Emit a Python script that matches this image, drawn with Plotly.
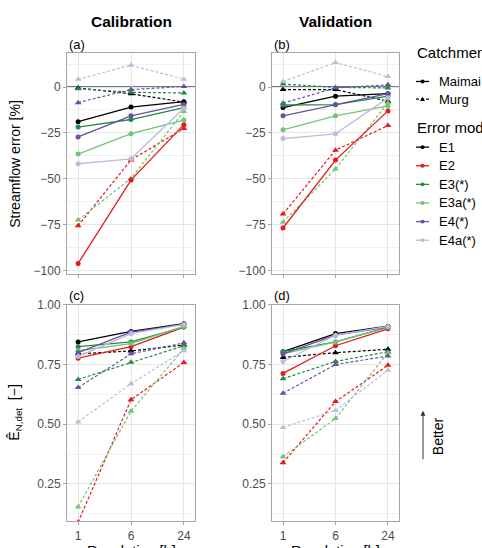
import plotly.graph_objects as go

W, H = 482, 548

res_labels = ["1", "6", "24"]
models = ["E1", "E2", "E3(*)", "E3a(*)", "E4(*)", "E4a(*)"]
model_colors = ["#000000", "#E41A1C", "#238B45", "#74C476", "#6A51A3", "#BCBDDC"]
catchments = ["Maimai", "Murg"]

# Streamflow error [%] - Calibration (rows follow `models`)
cal_err_maimai = [
    [-18.9, -10.9, -8.0],
    [-96.1, -50.7, -20.5],
    [-21.8, -17.7, -11.2],
    [-36.5, -25.4, -18.0],
    [-27.2, -15.7, -9.5],
    [-41.8, -39.1, -11.6],
]
cal_err_murg = [
    [-0.5, -3.7, -8.2],
    [-75.6, -39.7, -22.6],
    [-0.9, -2.9, -3.2],
    [-72.4, -49.8, -13.3],
    [-8.5, -1.4, 0.3],
    [4.3, 11.9, 4.3],
]
# Streamflow error [%] - Validation
val_err_maimai = [
    [-11.2, -5.0, -3.6],
    [-76.8, -39.8, -13.0],
    [-9.8, -9.6, -5.0],
    [-23.3, -15.7, -10.3],
    [-15.7, -9.5, -3.6],
    [-28.1, -25.5, -5.9],
]
val_err_murg = [
    [-1.4, -1.4, -7.7],
    [-69.2, -34.4, -21.0],
    [1.6, -0.2, -0.5],
    [-73.6, -44.7, -8.6],
    [-8.8, -0.5, 1.2],
    [3.0, 13.3, 5.7],
]
# E_N,det [-] - Calibration
cal_en_maimai = [
    [0.845, 0.889, 0.921],
    [0.777, 0.825, 0.907],
    [0.825, 0.845, 0.907],
    [0.808, 0.838, 0.910],
    [0.800, 0.886, 0.918],
    [0.784, 0.880, 0.918],
]
cal_en_murg = [
    [0.795, 0.807, 0.832],
    [0.090, 0.603, 0.759],
    [0.688, 0.760, 0.829],
    [0.154, 0.555, 0.818],
    [0.654, 0.795, 0.841],
    [0.510, 0.670, 0.808],
]
# E_N,det [-] - Validation
val_en_maimai = [
    [0.804, 0.880, 0.911],
    [0.713, 0.829, 0.900],
    [0.804, 0.845, 0.907],
    [0.795, 0.845, 0.905],
    [0.795, 0.873, 0.907],
    [0.763, 0.873, 0.910],
]
val_en_murg = [
    [0.780, 0.800, 0.814],
    [0.339, 0.595, 0.747],
    [0.691, 0.763, 0.804],
    [0.364, 0.524, 0.800],
    [0.630, 0.750, 0.786],
    [0.487, 0.558, 0.726],
]

err_ticks = [-100, -75, -50, -25, 0]
en_ticks = [0.25, 0.50, 0.75, 1.00]


def px(v):
    return v / W


def py(v):
    return 1 - v / H


FONT = "Liberation Sans, Arial, sans-serif"
GRID = "#e6e6e6"
MINOR = "#f2f2f2"
BORDER = "#a6a6a6"
TICKC = "#4d4d4d"
DASH = "3px,2px"

panels = [
    ("x", "y", (67, 195), (47, 272), cal_err_maimai, cal_err_murg, "err"),
    ("x2", "y2", (272, 399), (47, 272), val_err_maimai, val_err_murg, "err"),
    ("x3", "y3", (67, 195), (304, 525), cal_en_maimai, cal_en_murg, "en"),
    ("x4", "y4", (272, 399), (304, 525), val_en_maimai, val_en_murg, "en"),
]

fig = go.Figure()
layout = dict(
    width=W, height=H, margin=dict(l=0, r=0, t=0, b=0),
    paper_bgcolor="white", plot_bgcolor="white", showlegend=False,
    font=dict(family=FONT, color="black"),
)

xpos = list(range(len(res_labels)))

for xa, ya, xd, yd, maimai, murg, kind in panels:
    for i, m in enumerate(models):
        fig.add_trace(go.Scatter(
            x=xpos, y=murg[i], xaxis=xa, yaxis=ya, mode="lines+markers",
            line=dict(color=model_colors[i], width=1.2, dash=DASH),
            marker=dict(symbol="triangle-up", size=6, color=model_colors[i]),
            name=m + " Murg",
        ))
    for i, m in enumerate(models):
        fig.add_trace(go.Scatter(
            x=xpos, y=maimai[i], xaxis=xa, yaxis=ya, mode="lines+markers",
            line=dict(color=model_colors[i], width=1.3),
            marker=dict(symbol="circle", size=5, color=model_colors[i]),
            name=m + " Maimai",
        ))
    xk = "xaxis" + xa[1:]
    yk = "yaxis" + ya[1:]
    bottom = kind == "en"
    layout[xk] = dict(
        domain=[px(xd[0]), px(xd[1])], anchor=ya, range=[-0.21, 2.21],
        tickvals=xpos, ticktext=res_labels, showticklabels=bottom,
        ticks="outside", ticklen=3, tickcolor=BORDER,
        tickfont=dict(size=12, color=TICKC, family=FONT),
        showgrid=True, gridcolor=GRID, gridwidth=1,
        showline=True, linecolor=BORDER, linewidth=1, mirror=True,
        zeroline=False, fixedrange=True,
    )
    if kind == "err":
        yr = [-101.6, 18.5]
        tv = err_ticks
        tt = [("−" + str(-t)) if t < 0 else str(t) for t in tv]
        minor = dict(showgrid=True, gridcolor=MINOR, dtick=12.5, tick0=-12.5)
    else:
        yr = [0.093, 1.0]
        tv = en_ticks
        tt = ["%.2f" % t for t in tv]
        minor = dict(showgrid=True, gridcolor=MINOR, dtick=0.25, tick0=0.125)
    layout[yk] = dict(
        domain=[py(yd[1]), py(yd[0])], anchor=xa, range=yr,
        tickvals=tv, ticktext=tt, ticks="outside", ticklen=3, tickcolor=BORDER,
        tickfont=dict(size=12, color=TICKC, family=FONT),
        showgrid=True, gridcolor=GRID, gridwidth=1, minor=minor,
        showline=True, linecolor=BORDER, linewidth=1, mirror=True,
        zeroline=False, fixedrange=True,
    )

fig.update_layout(**layout)

# zero reference lines
for xa, ya in [("x", "y"), ("x2", "y2")]:
    fig.add_shape(type="line", xref=xa + " domain", yref=ya, x0=0, x1=1, y0=0, y1=0,
                  line=dict(color="#4d4d4d", width=1.6), layer="below")

ann = []
ann.append(dict(text="<b>Calibration</b>", x=px(131), y=py(15), font=dict(size=15.5)))
ann.append(dict(text="<b>Validation</b>", x=px(335), y=py(15), font=dict(size=15.5)))
for lab, xx, yy in [("(a)", 67, 38), ("(b)", 272, 38), ("(c)", 67, 294), ("(d)", 272, 294)]:
    ann.append(dict(text=lab, x=px(xx), y=py(yy), xanchor="left", font=dict(size=13)))
ann.append(dict(text="Streamflow error [%]", x=px(15), y=py(160), textangle=-90, font=dict(size=14)))
ann.append(dict(text="Ê<sub>N,det</sub>  [−]", x=px(15), y=py(414), textangle=-90, font=dict(size=14)))
ann.append(dict(text="Resolution [h]", x=px(131), y=py(555), font=dict(size=14.5)))
ann.append(dict(text="Resolution [h]", x=px(335), y=py(555), font=dict(size=14.5)))
ann.append(dict(text="Catchment", x=px(415), y=py(46), xanchor="left", font=dict(size=15)))
ann.append(dict(text="Error model", x=px(415), y=py(123), xanchor="left", font=dict(size=15)))

leg_rows = [("Maimai", "#000000", "solid", "circle", 76), ("Murg", "#000000", "dash", "tri", 94)]
leg_y_err = [143, 162, 181, 200, 219, 238]
for (m, c), yy in zip(zip(models, model_colors), leg_y_err):
    leg_rows.append((m, c, "solid", "circle", yy))

for lab, c, dsh, sym, yy in leg_rows:
    fig.add_shape(type="line", xref="paper", yref="paper", x0=px(416), x1=px(429),
                  y0=py(yy), y1=py(yy),
                  line=dict(color=c, width=1.3, dash=DASH if dsh == "dash" else "solid"))
    if sym == "circle":
        fig.add_shape(type="circle", xref="paper", yref="paper", x0=px(420.5), x1=px(424.5),
                      y0=py(yy + 2), y1=py(yy - 2), line=dict(width=0), fillcolor=c)
    else:
        path = "M %f %f L %f %f L %f %f Z" % (px(420), py(yy + 2), px(425), py(yy + 2), px(422.5), py(yy - 2.5))
        fig.add_shape(type="path", xref="paper", yref="paper", path=path, line=dict(width=0), fillcolor=c)
    ann.append(dict(text=lab, x=px(437), y=py(yy), xanchor="left", font=dict(size=13)))

ann.append(dict(text="", x=px(423), y=py(412), ax=0, ay=50, showarrow=True, arrowhead=2,
                arrowsize=1, arrowwidth=1, arrowcolor="#333333", xref="paper", yref="paper"))
ann.append(dict(text="Better", x=px(438), y=py(438), textangle=-90, font=dict(size=14)))

for a in ann:
    a.setdefault("xref", "paper")
    a.setdefault("yref", "paper")
    a.setdefault("showarrow", False)
    a.setdefault("xanchor", "center")
    a.setdefault("yanchor", "middle")
    f = a.setdefault("font", {})
    f.setdefault("family", FONT)
    f.setdefault("color", "black")
fig.update_layout(annotations=ann)

fig.write_html("out.html")
